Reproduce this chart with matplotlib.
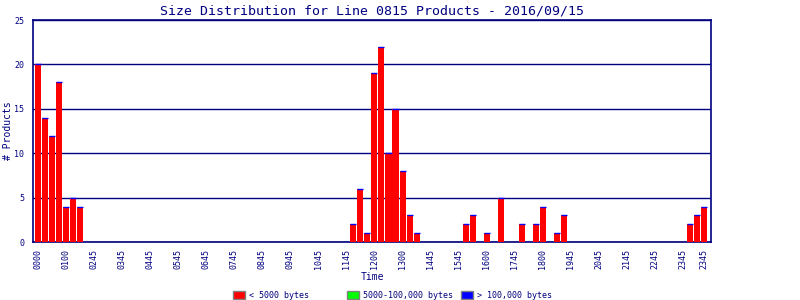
import numpy as np
import matplotlib.pyplot as plt
from matplotlib.patches import Rectangle

# 96 fifteen-minute slots, counts
small = np.zeros(96, dtype=int)
small[[0, 1, 2, 3, 4, 5, 6]] = [20, 14, 12, 18, 4, 5, 4]
small[[45, 46, 47, 48, 49, 50, 51, 52, 53, 54]] = [2, 6, 1, 19, 22, 10, 15, 8, 3, 1]
small[[61, 62, 64, 66, 69, 71, 72, 74, 75]] = [2, 3, 1, 5, 2, 2, 4, 1, 3]
small[[93, 94, 95]] = [2, 3, 4]
medium = np.zeros(96, dtype=int)
large = np.zeros(96, dtype=int)

tick_slots = list(range(0, 96, 4)) + [95]
tick_labels = ['0000', '0100', '0245', '0345', '0445', '0545', '0645', '0745',
               '0845', '0945', '1045', '1145', '1200', '1300', '1445', '1545',
               '1600', '1745', '1800', '1945', '2045', '2145', '2245', '2345', '2345']

legend_labels = ['< 5000 bytes', '5000-100,000 bytes', '> 100,000 bytes']
legend_colors = ['#ff0000', '#00ff00', '#0000ff']

navy = '#000080'
plt.rcParams['font.family'] = 'DejaVu Sans Mono'

fig = plt.figure(figsize=(8, 3), dpi=100)
ax = fig.add_axes([0.041, 0.193, 0.848, 0.74])

x = np.arange(96)
w = 0.86
ax.bar(x, small, width=w, color=legend_colors[0], linewidth=0, zorder=3)
ax.bar(x, medium, width=w, bottom=small, color=legend_colors[1], linewidth=0, zorder=3)
# blue segment drawn with its outline, which shows as a cap on every bar
lw = [1.0 if v > 0 else 0 for v in small + medium + large]
ax.bar(x, large, width=w, bottom=small + medium, color=legend_colors[2],
       edgecolor=legend_colors[2], linewidth=lw, zorder=4)

ax.set_xlim(-0.7, 96.0)
ax.set_ylim(0, 25)
ax.set_yticks([0, 5, 10, 15, 20, 25])
ax.yaxis.grid(True, color=navy, linewidth=1.0, zorder=1)
ax.set_axisbelow(True)
ax.set_xticks(tick_slots)
ax.set_xticklabels(tick_labels, rotation=90)
ax.tick_params(axis='both', length=0, colors=navy, labelsize=6)
ax.tick_params(axis='x', pad=5)
ax.tick_params(axis='y', pad=6)
for s in ax.spines.values():
    s.set_color(navy)
    s.set_linewidth(1.2)

ax.set_title('Size Distribution for Line 0815 Products - 2016/09/15',
             color=navy, fontsize=9.5, pad=4)
ax.set_xlabel('Time', color=navy, fontsize=7, labelpad=2)
ax.set_ylabel('# Products', color=navy, fontsize=7, labelpad=1)

# legend row along the bottom, placed box by box like the original
box_x = [233, 347, 461]
for bx, lab, col in zip(box_x, legend_labels, legend_colors):
    fig.patches.append(Rectangle((bx / 800, 1 - 299 / 300), 12 / 800, 8 / 300,
                                 transform=fig.transFigure, facecolor=col,
                                 edgecolor='gray', linewidth=1))
    fig.text((bx + 16) / 800, 1 - 295 / 300, lab, color=navy, fontsize=6,
             va='center', ha='left')

fig.savefig('out.png', dpi=100)
